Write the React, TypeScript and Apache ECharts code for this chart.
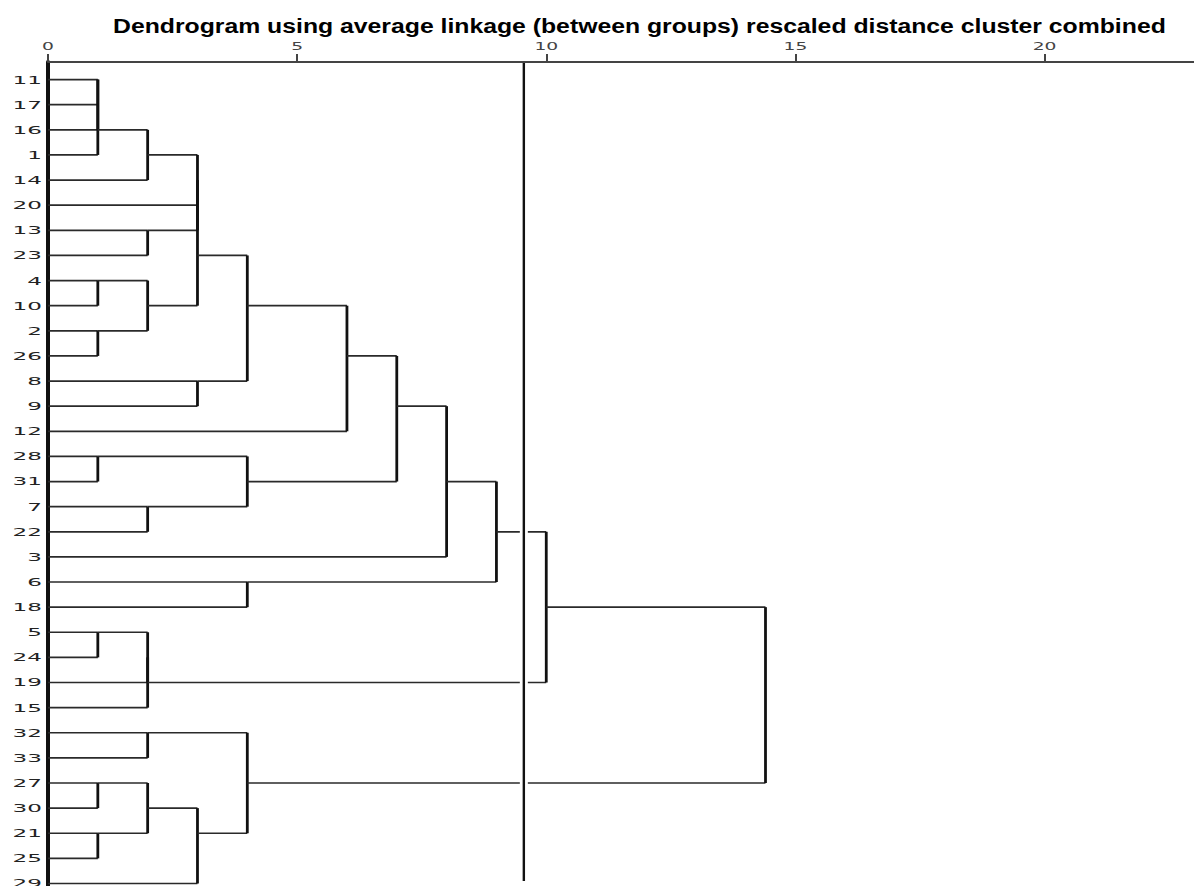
import React, { useEffect, useRef } from "react";
import * as echarts from "echarts";

const titleText =
  "Dendrogram using average linkage (between groups) rescaled distance cluster combined";

// leaf order, top to bottom
const leafLabels = [
  "11", "17", "16", "1", "14", "20", "13", "23", "4", "10", "2", "26", "8", "9", "12",
  "28", "31", "7", "22", "3", "6", "18", "5", "24", "19", "15", "32", "33", "27", "30",
  "21", "25", "29",
];

// merge k creates node "m" + k from mergeLeft[k] and mergeRight[k] at mergeDistance[k]
const mergeLeft = [
  "11", "m0", "m1", "m2", "13", "4", "2", "m5", "m3", "m8", "m9", "8", "m10", "m12", "28",
  "7", "m14", "m13", "m17", "6", "m18", "5", "m21", "m22", "m20", "32", "27", "21", "m26",
  "m28", "m25", "m24",
];
const mergeRight = [
  "17", "16", "1", "14", "23", "10", "26", "m6", "20", "m4", "m7", "9", "m11", "12", "31",
  "22", "m15", "m16", "3", "18", "m19", "24", "19", "15", "m23", "33", "30", "25", "m27",
  "29", "m29", "m30",
];
const mergeDistance = [
  1, 1, 1, 2, 2, 1, 1, 2, 3, 3, 3, 3, 4, 6, 1, 2, 4, 7, 8, 4, 9, 1, 2, 2, 10, 2, 1, 1, 2, 3,
  4, 14.4,
];

const tickValues = [0, 5, 10, 15, 20];
const tickLabels = ["0", "5", "10", "15", "20"];
const cutDistance = 9.55;
const Y_MIN = -0.7;
const Y_MAX = 32.1;

function buildSegments(): number[][] {
  const rowOf: Record<string, number> = {};
  const hOf: Record<string, number> = {};
  leafLabels.forEach((l, i) => {
    rowOf[l] = i;
    hOf[l] = 0;
  });
  const segs: number[][] = [];
  mergeDistance.forEach((d, k) => {
    const a = mergeLeft[k];
    const b = mergeRight[k];
    const ra = rowOf[a];
    const rb = rowOf[b];
    [a, b].forEach((n) => {
      if (d > hOf[n]) segs.push([hOf[n], rowOf[n], d, rowOf[n], 0]);
    });
    segs.push([d, Math.min(ra, rb), d, Math.max(ra, rb), 1]);
    rowOf["m" + k] = Math.floor((ra + rb) / 2);
    hOf["m" + k] = d;
  });
  // cut line: white gap band then black line
  segs.push([cutDistance, -0.66, cutDistance, 31.9, 2]);
  segs.push([cutDistance, -0.66, cutDistance, 31.9, 3]);
  return segs;
}

export default function App() {
  const ref = useRef<HTMLDivElement>(null);

  useEffect(() => {
    if (!ref.current) return;
    const chart = echarts.init(ref.current, null, { renderer: "svg" });
    const segs = buildSegments();
    const styles: Record<number, any> = {
      0: { stroke: "#2a2a2a", lineWidth: 1.7 },
      1: { stroke: "#111", lineWidth: 2.8 },
      2: { stroke: "#fff", lineWidth: 8 },
      3: { stroke: "#111", lineWidth: 2.4 },
    };
    chart.setOption({
      animation: false,
      backgroundColor: "#fff",
      graphic: [
        {
          type: "text",
          x: 113,
          y: 25.7,
          scaleX: 1.18,
          style: {
            text: titleText,
            align: "left",
            verticalAlign: "middle",
            fontSize: 21,
            fontWeight: "bold",
            fontFamily: "Liberation Sans, Arial, sans-serif",
            fill: "#000",
          },
        },
      ],
      grid: { left: 48, right: 0, top: 62, bottom: 0, containLabel: false },
      xAxis: {
        type: "value",
        position: "top",
        min: 0,
        max: 23,
        axisLine: { show: true, onZero: false, lineStyle: { color: "#444", width: 2 } },
        axisTick: {
          show: true,
          customValues: tickValues,
          length: 8,
          lineStyle: { color: "#444", width: 2 },
        },
        axisLabel: { show: false },
        splitLine: { show: false },
      },
      yAxis: {
        type: "value",
        inverse: true,
        min: Y_MIN,
        max: Y_MAX,
        axisLine: { show: true, onZero: false, lineStyle: { color: "#111", width: 4 } },
        axisTick: { show: false },
        axisLabel: { show: false },
        splitLine: { show: false },
      },
      series: [
        {
          type: "custom",
          name: "tree",
          data: segs,
          silent: true,
          renderItem: (params: any, api: any) => {
            const p1 = api.coord([api.value(0), api.value(1)]);
            const p2 = api.coord([api.value(2), api.value(3)]);
            const kind = api.value(4);
            return {
              type: "line",
              shape: { x1: p1[0], y1: p1[1], x2: p2[0], y2: p2[1] },
              style: { ...styles[kind], lineCap: "butt" },
            };
          },
        },
        {
          type: "custom",
          name: "leaves",
          data: leafLabels.map((_, i) => [0, i]),
          silent: true,
          renderItem: (params: any, api: any) => {
            const p = api.coord([api.value(0), api.value(1)]);
            return {
              type: "text",
              x: p[0] - 6,
              y: p[1],
              scaleX: 2.1,
              style: {
                text: leafLabels[params.dataIndex],
                align: "right",
                verticalAlign: "middle",
                fontSize: 11,
                fontFamily: "DejaVu Sans",
                fill: "#222",
              },
            };
          },
        },
        {
          type: "custom",
          name: "ticks",
          data: tickValues.map((v) => [v, Y_MIN]),
          silent: true,
          renderItem: (params: any, api: any) => {
            const p = api.coord([api.value(0), api.value(1)]);
            return {
              type: "text",
              x: p[0],
              y: p[1] - 15.3,
              scaleX: 1.7,
              style: {
                text: tickLabels[params.dataIndex],
                align: "center",
                verticalAlign: "middle",
                fontSize: 11,
                fontFamily: "DejaVu Sans",
                fill: "#444",
              },
            };
          },
        },
      ],
    });
    return () => chart.dispose();
  }, []);

  return (
    <div
      ref={ref}
      style={{ position: "absolute", left: 0, top: 0, width: 1194, height: 886 }}
    />
  );
}
